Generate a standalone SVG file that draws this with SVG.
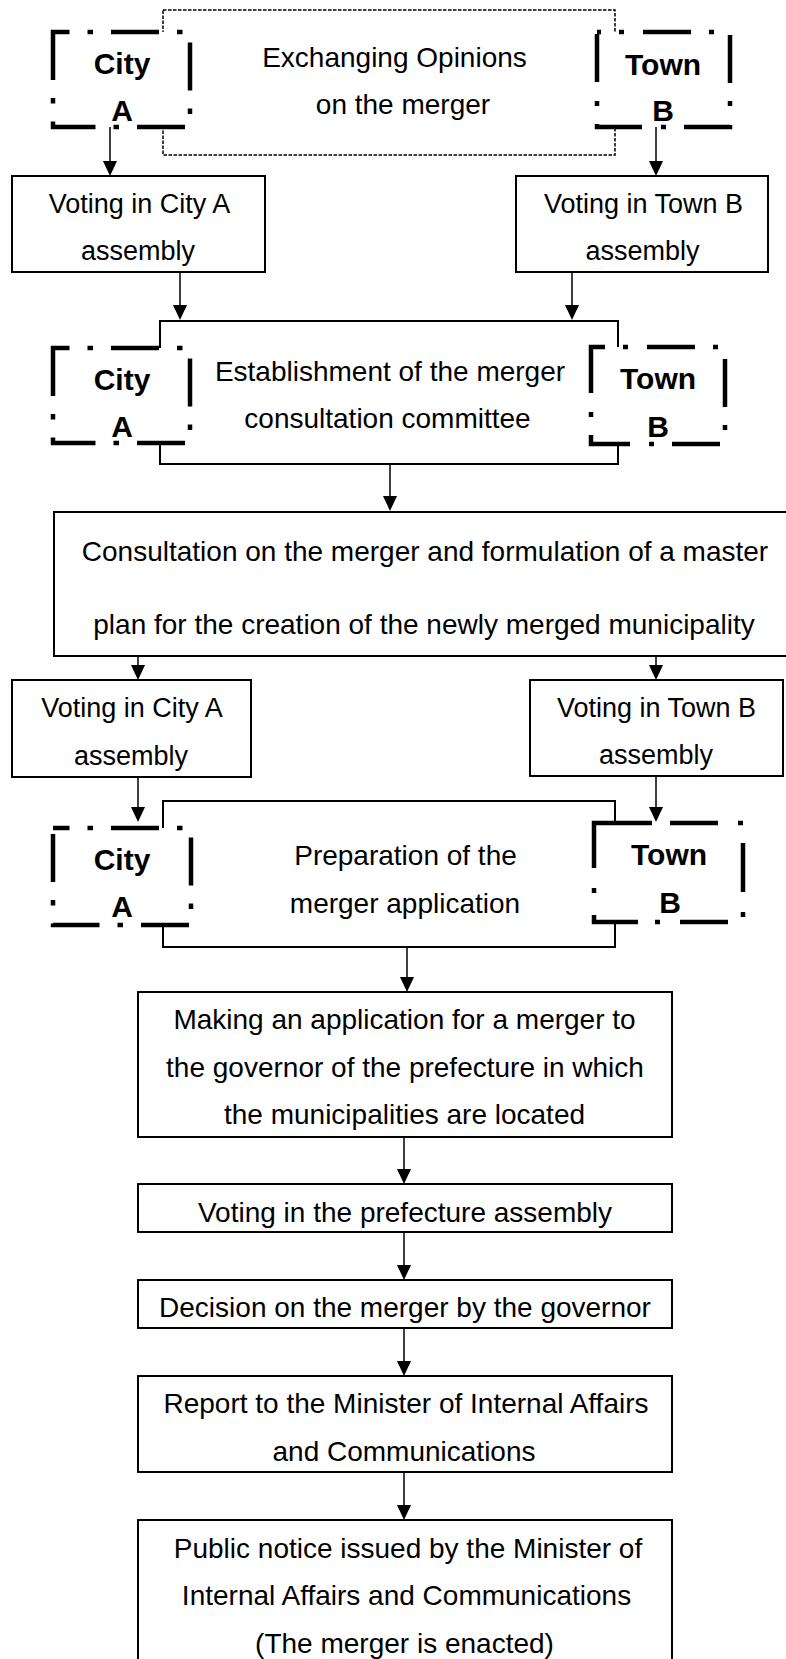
<svg xmlns="http://www.w3.org/2000/svg" width="786" height="1659" viewBox="0 0 786 1659">
<style>
.box{fill:#fff;stroke:#000;stroke-width:2}
.dbox{fill:#fff;stroke:#000;stroke-width:1.5;stroke-dasharray:3.5 1.5}
.city{fill:#fff;stroke:#000;stroke-width:4.5;stroke-dasharray:48 18 5.5 18}
.town{fill:#fff;stroke:#000;stroke-width:4.5;stroke-dasharray:48 18 5 19}
.t{font-family:"Liberation Sans",Arial,sans-serif;font-size:28px;fill:#000;text-anchor:middle}
.t27{font-family:"Liberation Sans",Arial,sans-serif;font-size:27px;fill:#000;text-anchor:middle}
.bt{font-family:"Liberation Sans",Arial,sans-serif;font-size:30px;font-weight:bold;fill:#000;text-anchor:middle}
.con{fill:none;stroke:#000;stroke-width:1.5}
</style>
<defs>
<marker id="ah" markerUnits="userSpaceOnUse" markerWidth="16" markerHeight="16" refX="11" refY="7" orient="auto">
<path d="M0,0 L15,7 L0,14 Z" fill="#000"/>
</marker>
</defs>
<rect width="786" height="1659" fill="#fff"/>

<g id="exchange">
<rect class="dbox" x="163" y="10" width="452" height="145"/>
<text class="t" x="394.5" y="67">Exchanging Opinions</text>
<text class="t" x="403" y="114">on the merger</text>
</g>
<g id="voteA1">
<rect class="box" x="12" y="176" width="253" height="96"/>
<text class="t27" x="139.5" y="213">Voting in City A</text>
<text class="t27" x="138" y="260">assembly</text>
</g>
<g id="voteB1">
<rect class="box" x="516" y="176" width="252" height="96"/>
<text class="t27" x="643.5" y="213">Voting in Town B</text>
<text class="t27" x="642.5" y="260">assembly</text>
</g>
<g id="establish">
<rect class="box" x="160" y="321" width="458" height="143"/>
<text class="t" x="390" y="381">Establishment of the merger</text>
<text class="t" x="387.5" y="428">consultation committee</text>
</g>
<g id="consult">
<rect class="box" x="54" y="512" width="744" height="144"/>
<text class="t" x="425" y="561">Consultation on the merger and formulation of a master</text>
<text class="t" x="424" y="634">plan for the creation of the newly merged municipality</text>
</g>
<g id="voteA2">
<rect class="box" x="12" y="680" width="239" height="97"/>
<text class="t27" x="132" y="717">Voting in City A</text>
<text class="t27" x="131" y="765">assembly</text>
</g>
<g id="voteB2">
<rect class="box" x="530" y="680" width="253" height="96"/>
<text class="t27" x="656.5" y="717">Voting in Town B</text>
<text class="t27" x="656" y="764">assembly</text>
</g>
<g id="prepare">
<rect class="box" x="163" y="801" width="452" height="146"/>
<text class="t" x="405.5" y="865">Preparation of the</text>
<text class="t" x="405" y="913">merger application</text>
</g>
<g id="apply">
<rect class="box" x="138" y="992" width="534" height="145"/>
<text class="t" x="404.5" y="1029">Making an application for a merger to</text>
<text class="t" x="405" y="1077">the governor of the prefecture in which</text>
<text class="t" x="404.5" y="1124">the municipalities are located</text>
</g>
<g id="prefVote">
<rect class="box" x="138" y="1184" width="534" height="48"/>
<text class="t" x="405" y="1222">Voting in the prefecture assembly</text>
</g>
<g id="decision">
<rect class="box" x="138" y="1280" width="534" height="48"/>
<text class="t" x="405" y="1317">Decision on the merger by the governor</text>
</g>
<g id="report">
<rect class="box" x="138" y="1376" width="534" height="96"/>
<text class="t" x="406" y="1413">Report to the Minister of Internal Affairs</text>
<text class="t" x="404" y="1461">and Communications</text>
</g>
<g id="notice">
<rect class="box" x="138" y="1520" width="534" height="160"/>
<text class="t" x="408" y="1558">Public notice issued by the Minister of</text>
<text class="t" x="406.5" y="1605">Internal Affairs and Communications</text>
<text class="t" x="404.5" y="1653">(The merger is enacted)</text>
</g>

<g id="cityA1">
<rect class="city" x="53" y="32" width="137" height="95" stroke-dashoffset="31.5"/>
<text class="bt" x="122" y="74">City</text>
<text class="bt" x="122" y="121">A</text>
</g>
<g id="townB1">
<rect class="town" x="597" y="32" width="133" height="95" stroke-dashoffset="44"/>
<text class="bt" x="663" y="75">Town</text>
<text class="bt" x="663" y="121">B</text>
</g>
<g id="cityA2">
<rect class="city" x="53" y="348" width="137" height="95" stroke-dashoffset="31.5"/>
<text class="bt" x="122" y="390">City</text>
<text class="bt" x="122" y="437">A</text>
</g>
<g id="townB2">
<rect class="town" x="591" y="347" width="134" height="97" stroke-dashoffset="34"/>
<text class="bt" x="658" y="389">Town</text>
<text class="bt" x="658" y="437">B</text>
</g>
<g id="cityA3">
<rect class="city" x="53" y="828" width="138" height="97" stroke-dashoffset="31.5"/>
<text class="bt" x="122" y="870">City</text>
<text class="bt" x="122" y="917">A</text>
</g>
<g id="townB3">
<rect class="town" x="594" y="823" width="149" height="99" style="stroke-dasharray:58 18 48 20 5 20 49 20 5 20 48 20 5 17 51 22 5 20 45 10"/>
<text class="bt" x="669" y="865">Town</text>
<text class="bt" x="670" y="913">B</text>
</g>

<g id="connectors">
<path class="con" marker-end="url(#ah)" d="M110,127 V172"/>
<path class="con" marker-end="url(#ah)" d="M656,127 V172"/>
<path class="con" marker-end="url(#ah)" d="M180,272 V316"/>
<path class="con" marker-end="url(#ah)" d="M572,272 V316"/>
<path class="con" marker-end="url(#ah)" d="M390,464 V507"/>
<path class="con" marker-end="url(#ah)" d="M138,656 V676"/>
<path class="con" marker-end="url(#ah)" d="M656,656 V676"/>
<path class="con" marker-end="url(#ah)" d="M138,777 V818"/>
<path class="con" marker-end="url(#ah)" d="M656,776 V818"/>
<path class="con" marker-end="url(#ah)" d="M407,947 V988"/>
<path class="con" marker-end="url(#ah)" d="M404,1137 V1180"/>
<path class="con" marker-end="url(#ah)" d="M404,1232 V1276"/>
<path class="con" marker-end="url(#ah)" d="M404,1328 V1372"/>
<path class="con" marker-end="url(#ah)" d="M404,1472 V1516"/>
</g>
</svg>
